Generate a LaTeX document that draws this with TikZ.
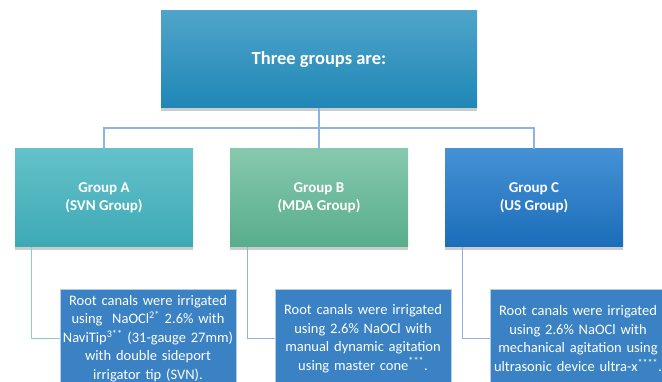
\documentclass[tikz,border=0pt]{standalone}
\usepackage{fontspec}
\setmainfont{Carlito}
\usetikzlibrary{shadows}

\definecolor{headtop}{HTML}{4FA4CA}
\definecolor{headbot}{HTML}{1F87B6}
\definecolor{atop}{HTML}{64C1C9}
\definecolor{abot}{HTML}{3DA9B5}
\definecolor{btop}{HTML}{86C8AE}
\definecolor{bbot}{HTML}{58AD8D}
\definecolor{ctop}{HTML}{4591D4}
\definecolor{cbot}{HTML}{1B6DBA}
\definecolor{notefill}{HTML}{3A82C3}
\definecolor{noteedge}{HTML}{B3CCEA}
\definecolor{linkblue}{HTML}{8DB3E2}
\definecolor{linkteal}{HTML}{86CDD4}

\begin{document}
\begin{tikzpicture}[x=1pt, y=-1pt,
    box/.style={rectangle, text=white, font=\bfseries\fontsize{15}{18}\selectfont,
        align=center, minimum width=178pt, minimum height=98pt,
        drop shadow={shadow xshift=0pt, shadow yshift=-3pt, opacity=0.4}},
    note/.style={rectangle, fill=notefill, draw=noteedge, line width=0.7pt, text=white,
        font=\fontsize{14.5}{18.5}\selectfont, align=center, text width=174pt,
        inner xsep=1pt, minimum height=99pt},
    link/.style={draw=linkblue, line width=1.2pt}]
    \useasboundingbox (0, 0) rectangle (662, 382);

    % Heading box
    \node[box, top color=headtop, bottom color=headbot, minimum width=316pt,
        minimum height=97pt, font=\bfseries\fontsize{18.5}{22}\selectfont]
        (top) at (319, 59.5) {Three groups are:};

    % Group boxes
    \node[box, top color=atop, bottom color=abot] (gA) at (104, 198) {Group A\\(SVN Group)};
    \node[box, top color=btop, bottom color=bbot] (gB) at (319, 198) {Group B\\(MDA Group)};
    \node[box, top color=ctop, bottom color=cbot] (gC) at (534, 198) {Group C\\(US Group)};

    % Descriptions
    \node[note] (tA) at (148, 338.5) {Root canals were irrigated\\
        using~ NaOCl\textsuperscript{2*} 2.6\% with\\
        NaviTip\textsuperscript{3**} (31-gauge 27mm)\\
        with double sideport\\
        irrigator tip (SVN).};
    \node[note] (tB) at (363, 338.5) {Root canals were irrigated\\
        using 2.6\% NaOCl with\\
        manual dynamic agitation\\
        using master cone\textsuperscript{***}.};
    \node[note] (tC) at (578, 338.5) {Root canals were irrigated\\
        using 2.6\% NaOCl with\\
        mechanical agitation using\\
        ultrasonic device ultra-x\textsuperscript{****}.};

    % Tree lines
    \coordinate (bus) at (319, 128);
    \draw[link] (top) -- (bus);
    \foreach \g in {gA, gB, gC} {
        \draw[link] (bus) -| (\g.north);
    }

    % Elbow lines to the descriptions
    \draw[link, draw=linkteal] ([xshift=17pt]gA.south west) |- (tA.west);
    \draw[link] ([xshift=18pt]gB.south west) |- (tB.west);
    \draw[link] ([xshift=18pt]gC.south west) |- (tC.west);
\end{tikzpicture}
\end{document}
